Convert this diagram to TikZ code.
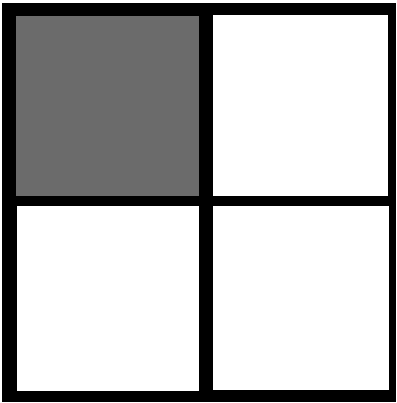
\documentclass[tikz,border=0pt]{standalone}
\usepackage{tikz}

\begin{document}
\begin{tikzpicture}[
  x=1pt, y=-1pt,
  frame/.style={fill=black},
  cell/.style={fill=white},
  shaded/.style={fill=black!58}]
  \useasboundingbox (0,0) rectangle (396,403);
  \fill[frame] (2,3) rectangle (396,402);
  \fill[shaded] (16,16) rectangle (199,196);
  \fill[cell] (213,15) rectangle (388,196);
  \fill[cell] (17,206) rectangle (199,391);
  \fill[cell] (213,206) rectangle (389,390);
\end{tikzpicture}
\end{document}
